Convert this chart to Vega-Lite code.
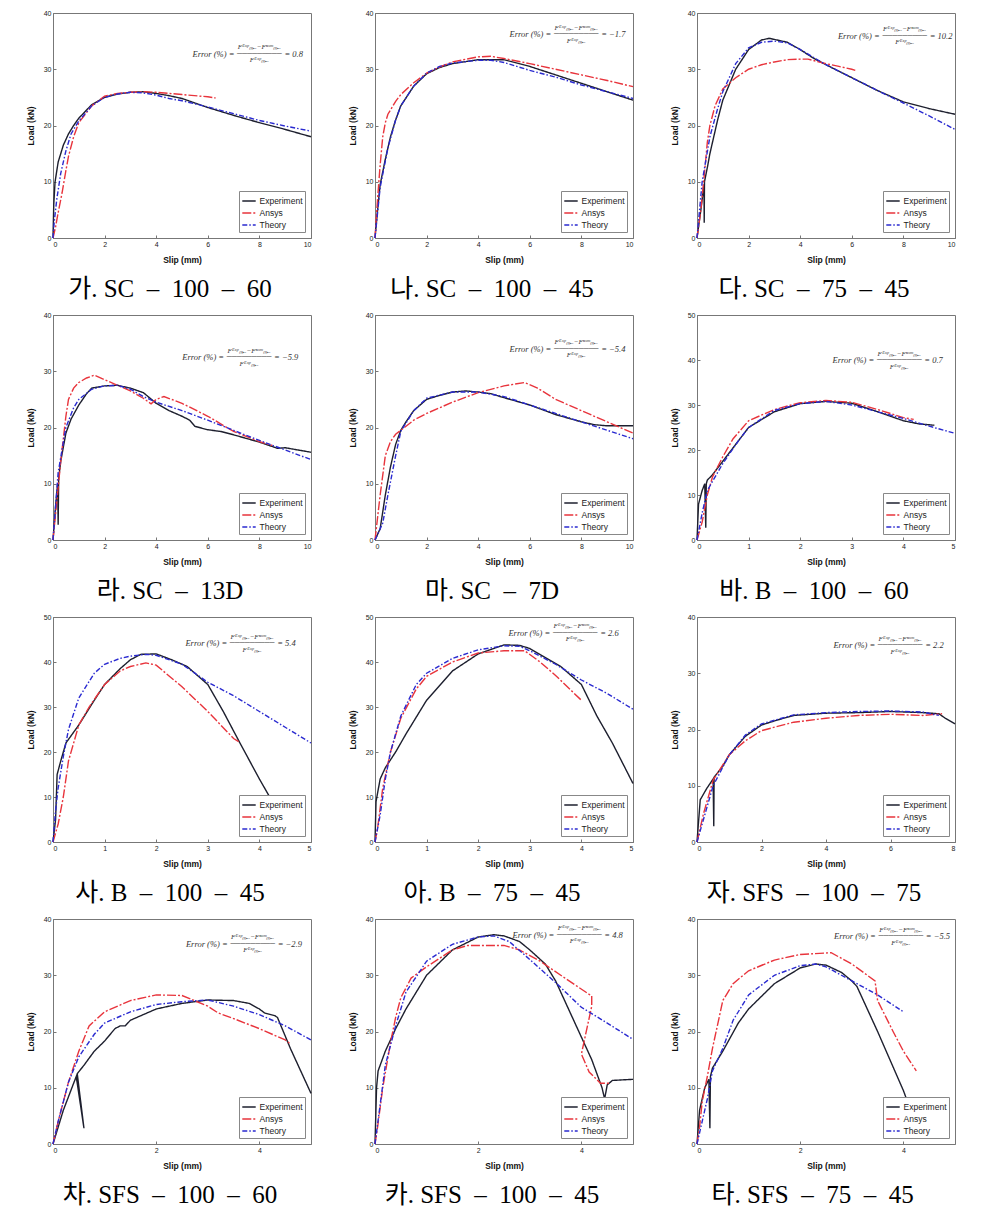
{
"$schema": "https://vega.github.io/schema/vega-lite/v6.json",
"background": "white",
"padding": {"left": 25, "top": 8, "right": 0, "bottom": 0},
"datasets": {
"curves": [
{"p":"a","s":"Experiment","x":0,"y":0},{"p":"a","s":"Experiment","x":0.03,"y":6},{"p":"a","s":"Experiment","x":0.08,"y":10},{"p":"a","s":"Experiment","x":0.2,"y":13.5},{"p":"a","s":"Experiment","x":0.4,"y":16.5},{"p":"a","s":"Experiment","x":0.6,"y":18.5},{"p":"a","s":"Experiment","x":0.8,"y":20},{"p":"a","s":"Experiment","x":1,"y":21.3},{"p":"a","s":"Experiment","x":1.5,"y":23.7},{"p":"a","s":"Experiment","x":2,"y":25},{"p":"a","s":"Experiment","x":2.5,"y":25.6},{"p":"a","s":"Experiment","x":3,"y":25.9},{"p":"a","s":"Experiment","x":3.5,"y":26},{"p":"a","s":"Experiment","x":4,"y":25.7},{"p":"a","s":"Experiment","x":4.5,"y":25.3},{"p":"a","s":"Experiment","x":5,"y":24.8},{"p":"a","s":"Experiment","x":6,"y":23.2},{"p":"a","s":"Experiment","x":7,"y":21.8},{"p":"a","s":"Experiment","x":8,"y":20.5},{"p":"a","s":"Experiment","x":9,"y":19.3},{"p":"a","s":"Experiment","x":10,"y":18},
{"p":"a","s":"Ansys","x":0,"y":0},{"p":"a","s":"Ansys","x":0.1,"y":2},{"p":"a","s":"Ansys","x":0.2,"y":4.5},{"p":"a","s":"Ansys","x":0.35,"y":8},{"p":"a","s":"Ansys","x":0.5,"y":12},{"p":"a","s":"Ansys","x":0.6,"y":14.5},{"p":"a","s":"Ansys","x":0.8,"y":18},{"p":"a","s":"Ansys","x":1,"y":20.5},{"p":"a","s":"Ansys","x":1.5,"y":23.5},{"p":"a","s":"Ansys","x":2,"y":25.2},{"p":"a","s":"Ansys","x":2.5,"y":25.7},{"p":"a","s":"Ansys","x":3,"y":25.9},{"p":"a","s":"Ansys","x":3.5,"y":26},{"p":"a","s":"Ansys","x":4,"y":25.9},{"p":"a","s":"Ansys","x":5,"y":25.5},{"p":"a","s":"Ansys","x":6,"y":25.1},{"p":"a","s":"Ansys","x":6.3,"y":24.9},
{"p":"a","s":"Theory","x":0,"y":0},{"p":"a","s":"Theory","x":0.05,"y":3},{"p":"a","s":"Theory","x":0.15,"y":7},{"p":"a","s":"Theory","x":0.3,"y":11.5},{"p":"a","s":"Theory","x":0.5,"y":15.5},{"p":"a","s":"Theory","x":0.7,"y":18.5},{"p":"a","s":"Theory","x":1,"y":20.8},{"p":"a","s":"Theory","x":1.5,"y":23.5},{"p":"a","s":"Theory","x":2,"y":25},{"p":"a","s":"Theory","x":2.5,"y":25.6},{"p":"a","s":"Theory","x":3,"y":25.9},{"p":"a","s":"Theory","x":3.5,"y":25.8},{"p":"a","s":"Theory","x":4,"y":25.4},{"p":"a","s":"Theory","x":4.5,"y":24.8},{"p":"a","s":"Theory","x":5,"y":24.4},{"p":"a","s":"Theory","x":6,"y":23.3},{"p":"a","s":"Theory","x":7,"y":22.1},{"p":"a","s":"Theory","x":8,"y":20.9},{"p":"a","s":"Theory","x":9,"y":19.9},{"p":"a","s":"Theory","x":10,"y":19},

{"p":"b","s":"Experiment","x":0,"y":0},{"p":"b","s":"Experiment","x":0.1,"y":5},{"p":"b","s":"Experiment","x":0.2,"y":9.5},{"p":"b","s":"Experiment","x":0.4,"y":14},{"p":"b","s":"Experiment","x":0.6,"y":18},{"p":"b","s":"Experiment","x":0.8,"y":21},{"p":"b","s":"Experiment","x":1,"y":23.5},{"p":"b","s":"Experiment","x":1.5,"y":27},{"p":"b","s":"Experiment","x":2,"y":29.2},{"p":"b","s":"Experiment","x":2.5,"y":30.3},{"p":"b","s":"Experiment","x":3,"y":31},{"p":"b","s":"Experiment","x":4,"y":31.7},{"p":"b","s":"Experiment","x":5,"y":31.7},{"p":"b","s":"Experiment","x":6,"y":30.5},{"p":"b","s":"Experiment","x":7,"y":29},{"p":"b","s":"Experiment","x":8,"y":27.5},{"p":"b","s":"Experiment","x":9,"y":26},{"p":"b","s":"Experiment","x":10,"y":24.5},
{"p":"b","s":"Ansys","x":0,"y":0},{"p":"b","s":"Ansys","x":0.1,"y":7},{"p":"b","s":"Ansys","x":0.2,"y":13},{"p":"b","s":"Ansys","x":0.3,"y":18},{"p":"b","s":"Ansys","x":0.4,"y":20.5},{"p":"b","s":"Ansys","x":0.5,"y":22},{"p":"b","s":"Ansys","x":0.8,"y":24.3},{"p":"b","s":"Ansys","x":1,"y":25.5},{"p":"b","s":"Ansys","x":1.5,"y":27.6},{"p":"b","s":"Ansys","x":2,"y":29.3},{"p":"b","s":"Ansys","x":2.5,"y":30.4},{"p":"b","s":"Ansys","x":3,"y":31.3},{"p":"b","s":"Ansys","x":4,"y":32.2},{"p":"b","s":"Ansys","x":4.5,"y":32.3},{"p":"b","s":"Ansys","x":5,"y":31.9},{"p":"b","s":"Ansys","x":6,"y":31},{"p":"b","s":"Ansys","x":7,"y":30},{"p":"b","s":"Ansys","x":8,"y":29},{"p":"b","s":"Ansys","x":9,"y":28},{"p":"b","s":"Ansys","x":10,"y":26.9},
{"p":"b","s":"Theory","x":0,"y":0},{"p":"b","s":"Theory","x":0.1,"y":4.5},{"p":"b","s":"Theory","x":0.2,"y":9},{"p":"b","s":"Theory","x":0.5,"y":16},{"p":"b","s":"Theory","x":0.8,"y":21},{"p":"b","s":"Theory","x":1,"y":23.5},{"p":"b","s":"Theory","x":1.5,"y":27},{"p":"b","s":"Theory","x":2,"y":29.3},{"p":"b","s":"Theory","x":2.5,"y":30.5},{"p":"b","s":"Theory","x":3,"y":31.1},{"p":"b","s":"Theory","x":4,"y":31.6},{"p":"b","s":"Theory","x":4.5,"y":31.6},{"p":"b","s":"Theory","x":5,"y":31.2},{"p":"b","s":"Theory","x":5.5,"y":30.5},{"p":"b","s":"Theory","x":6,"y":29.8},{"p":"b","s":"Theory","x":7,"y":28.6},{"p":"b","s":"Theory","x":8,"y":27.2},{"p":"b","s":"Theory","x":9,"y":26},{"p":"b","s":"Theory","x":10,"y":24.8},

{"p":"c","s":"Experiment","x":0,"y":0},{"p":"c","s":"Experiment","x":0.15,"y":5},{"p":"c","s":"Experiment","x":0.27,"y":9.5},{"p":"c","s":"Experiment","x":0.28,"y":2.7},{"p":"c","s":"Experiment","x":0.29,"y":10},{"p":"c","s":"Experiment","x":0.4,"y":12.5},{"p":"c","s":"Experiment","x":0.5,"y":15},{"p":"c","s":"Experiment","x":0.8,"y":21},{"p":"c","s":"Experiment","x":1,"y":24.5},{"p":"c","s":"Experiment","x":1.5,"y":30},{"p":"c","s":"Experiment","x":2,"y":33.5},{"p":"c","s":"Experiment","x":2.5,"y":35.2},{"p":"c","s":"Experiment","x":2.8,"y":35.5},{"p":"c","s":"Experiment","x":3,"y":35.3},{"p":"c","s":"Experiment","x":3.5,"y":34.8},{"p":"c","s":"Experiment","x":4,"y":33.5},{"p":"c","s":"Experiment","x":4.5,"y":32},{"p":"c","s":"Experiment","x":5,"y":30.8},{"p":"c","s":"Experiment","x":6,"y":28.5},{"p":"c","s":"Experiment","x":7,"y":26.2},{"p":"c","s":"Experiment","x":8,"y":24.2},{"p":"c","s":"Experiment","x":9,"y":23},{"p":"c","s":"Experiment","x":10,"y":22},
{"p":"c","s":"Ansys","x":0,"y":0},{"p":"c","s":"Ansys","x":0.15,"y":5},{"p":"c","s":"Ansys","x":0.3,"y":12},{"p":"c","s":"Ansys","x":0.4,"y":17},{"p":"c","s":"Ansys","x":0.5,"y":20},{"p":"c","s":"Ansys","x":0.7,"y":23.5},{"p":"c","s":"Ansys","x":1,"y":26.5},{"p":"c","s":"Ansys","x":1.5,"y":28.5},{"p":"c","s":"Ansys","x":2,"y":30},{"p":"c","s":"Ansys","x":2.5,"y":30.8},{"p":"c","s":"Ansys","x":3,"y":31.3},{"p":"c","s":"Ansys","x":3.5,"y":31.7},{"p":"c","s":"Ansys","x":4,"y":31.8},{"p":"c","s":"Ansys","x":4.3,"y":31.8},{"p":"c","s":"Ansys","x":5,"y":31},{"p":"c","s":"Ansys","x":5.5,"y":30.5},{"p":"c","s":"Ansys","x":6,"y":30},{"p":"c","s":"Ansys","x":6.2,"y":29.7},
{"p":"c","s":"Theory","x":0,"y":0},{"p":"c","s":"Theory","x":0.2,"y":10},{"p":"c","s":"Theory","x":0.5,"y":18},{"p":"c","s":"Theory","x":0.8,"y":23},{"p":"c","s":"Theory","x":1,"y":26},{"p":"c","s":"Theory","x":1.5,"y":31},{"p":"c","s":"Theory","x":2,"y":33.8},{"p":"c","s":"Theory","x":2.5,"y":34.8},{"p":"c","s":"Theory","x":3,"y":35},{"p":"c","s":"Theory","x":3.5,"y":34.7},{"p":"c","s":"Theory","x":4,"y":33.5},{"p":"c","s":"Theory","x":5,"y":30.8},{"p":"c","s":"Theory","x":6,"y":28.5},{"p":"c","s":"Theory","x":7,"y":26.2},{"p":"c","s":"Theory","x":8,"y":24},{"p":"c","s":"Theory","x":9,"y":21.7},{"p":"c","s":"Theory","x":10,"y":19.3},

{"p":"d","s":"Experiment","x":0,"y":0},{"p":"d","s":"Experiment","x":0.1,"y":6},{"p":"d","s":"Experiment","x":0.18,"y":10},{"p":"d","s":"Experiment","x":0.2,"y":2.7},{"p":"d","s":"Experiment","x":0.22,"y":11},{"p":"d","s":"Experiment","x":0.3,"y":14},{"p":"d","s":"Experiment","x":0.5,"y":19},{"p":"d","s":"Experiment","x":0.7,"y":21.5},{"p":"d","s":"Experiment","x":1,"y":24},{"p":"d","s":"Experiment","x":1.3,"y":26},{"p":"d","s":"Experiment","x":1.5,"y":27},{"p":"d","s":"Experiment","x":2,"y":27.4},{"p":"d","s":"Experiment","x":2.5,"y":27.5},{"p":"d","s":"Experiment","x":3,"y":27},{"p":"d","s":"Experiment","x":3.5,"y":26.2},{"p":"d","s":"Experiment","x":4,"y":24.3},{"p":"d","s":"Experiment","x":4.5,"y":23},{"p":"d","s":"Experiment","x":5,"y":22},{"p":"d","s":"Experiment","x":5.3,"y":21.3},{"p":"d","s":"Experiment","x":5.5,"y":20.2},{"p":"d","s":"Experiment","x":6,"y":19.6},{"p":"d","s":"Experiment","x":6.5,"y":19.3},{"p":"d","s":"Experiment","x":7,"y":18.7},{"p":"d","s":"Experiment","x":8,"y":17.4},{"p":"d","s":"Experiment","x":8.7,"y":16.3},{"p":"d","s":"Experiment","x":9,"y":16.4},{"p":"d","s":"Experiment","x":10,"y":15.6},
{"p":"d","s":"Ansys","x":0,"y":0},{"p":"d","s":"Ansys","x":0.15,"y":7},{"p":"d","s":"Ansys","x":0.3,"y":14},{"p":"d","s":"Ansys","x":0.5,"y":22},{"p":"d","s":"Ansys","x":0.6,"y":25},{"p":"d","s":"Ansys","x":0.8,"y":27},{"p":"d","s":"Ansys","x":1,"y":28},{"p":"d","s":"Ansys","x":1.3,"y":28.8},{"p":"d","s":"Ansys","x":1.6,"y":29.3},{"p":"d","s":"Ansys","x":2,"y":28.5},{"p":"d","s":"Ansys","x":2.5,"y":27.5},{"p":"d","s":"Ansys","x":3,"y":26.5},{"p":"d","s":"Ansys","x":3.5,"y":25.2},{"p":"d","s":"Ansys","x":3.8,"y":24.2},{"p":"d","s":"Ansys","x":4,"y":25},{"p":"d","s":"Ansys","x":4.3,"y":25.5},{"p":"d","s":"Ansys","x":5,"y":24.3},{"p":"d","s":"Ansys","x":6,"y":22},{"p":"d","s":"Ansys","x":7,"y":19.3},{"p":"d","s":"Ansys","x":8,"y":17.5},{"p":"d","s":"Ansys","x":8.5,"y":16.8},
{"p":"d","s":"Theory","x":0,"y":0},{"p":"d","s":"Theory","x":0.1,"y":6},{"p":"d","s":"Theory","x":0.2,"y":12},{"p":"d","s":"Theory","x":0.5,"y":20},{"p":"d","s":"Theory","x":0.8,"y":23.5},{"p":"d","s":"Theory","x":1,"y":25},{"p":"d","s":"Theory","x":1.5,"y":26.8},{"p":"d","s":"Theory","x":2,"y":27.4},{"p":"d","s":"Theory","x":2.5,"y":27.5},{"p":"d","s":"Theory","x":3,"y":26.8},{"p":"d","s":"Theory","x":3.5,"y":25.5},{"p":"d","s":"Theory","x":4,"y":24.5},{"p":"d","s":"Theory","x":5,"y":23},{"p":"d","s":"Theory","x":6,"y":21.3},{"p":"d","s":"Theory","x":7,"y":19.5},{"p":"d","s":"Theory","x":8,"y":17.7},{"p":"d","s":"Theory","x":9,"y":16},{"p":"d","s":"Theory","x":10,"y":14.3},

{"p":"e","s":"Experiment","x":0,"y":0},{"p":"e","s":"Experiment","x":0.2,"y":2},{"p":"e","s":"Experiment","x":0.3,"y":5},{"p":"e","s":"Experiment","x":0.4,"y":8},{"p":"e","s":"Experiment","x":0.6,"y":13},{"p":"e","s":"Experiment","x":0.8,"y":17},{"p":"e","s":"Experiment","x":1,"y":19.5},{"p":"e","s":"Experiment","x":1.2,"y":21},{"p":"e","s":"Experiment","x":1.5,"y":23},{"p":"e","s":"Experiment","x":2,"y":25},{"p":"e","s":"Experiment","x":2.5,"y":25.7},{"p":"e","s":"Experiment","x":3,"y":26.3},{"p":"e","s":"Experiment","x":3.5,"y":26.5},{"p":"e","s":"Experiment","x":4,"y":26.3},{"p":"e","s":"Experiment","x":4.5,"y":26},{"p":"e","s":"Experiment","x":5,"y":25.3},{"p":"e","s":"Experiment","x":6,"y":24},{"p":"e","s":"Experiment","x":7,"y":22.3},{"p":"e","s":"Experiment","x":8,"y":21},{"p":"e","s":"Experiment","x":8.5,"y":20.5},{"p":"e","s":"Experiment","x":9,"y":20.3},{"p":"e","s":"Experiment","x":10,"y":20.3},
{"p":"e","s":"Ansys","x":0,"y":0},{"p":"e","s":"Ansys","x":0.1,"y":4},{"p":"e","s":"Ansys","x":0.2,"y":8},{"p":"e","s":"Ansys","x":0.4,"y":15},{"p":"e","s":"Ansys","x":0.6,"y":17.5},{"p":"e","s":"Ansys","x":0.8,"y":18.8},{"p":"e","s":"Ansys","x":1,"y":19.5},{"p":"e","s":"Ansys","x":1.5,"y":21.3},{"p":"e","s":"Ansys","x":2,"y":22.5},{"p":"e","s":"Ansys","x":3,"y":24.5},{"p":"e","s":"Ansys","x":4,"y":26.2},{"p":"e","s":"Ansys","x":5,"y":27.4},{"p":"e","s":"Ansys","x":5.8,"y":28},{"p":"e","s":"Ansys","x":6.3,"y":27},{"p":"e","s":"Ansys","x":7,"y":25},{"p":"e","s":"Ansys","x":8,"y":23},{"p":"e","s":"Ansys","x":9,"y":21},{"p":"e","s":"Ansys","x":10,"y":19},
{"p":"e","s":"Theory","x":0,"y":0},{"p":"e","s":"Theory","x":0.3,"y":3},{"p":"e","s":"Theory","x":0.5,"y":8},{"p":"e","s":"Theory","x":0.8,"y":15},{"p":"e","s":"Theory","x":1,"y":19.3},{"p":"e","s":"Theory","x":1.5,"y":23},{"p":"e","s":"Theory","x":2,"y":25.2},{"p":"e","s":"Theory","x":3,"y":26.3},{"p":"e","s":"Theory","x":4,"y":26.3},{"p":"e","s":"Theory","x":5,"y":25.5},{"p":"e","s":"Theory","x":6,"y":24},{"p":"e","s":"Theory","x":7,"y":22.5},{"p":"e","s":"Theory","x":8,"y":21},{"p":"e","s":"Theory","x":9,"y":19.5},{"p":"e","s":"Theory","x":10,"y":18},

{"p":"f","s":"Experiment","x":0,"y":0},{"p":"f","s":"Experiment","x":0.03,"y":8},{"p":"f","s":"Experiment","x":0.1,"y":11},{"p":"f","s":"Experiment","x":0.15,"y":12.5},{"p":"f","s":"Experiment","x":0.17,"y":2.7},{"p":"f","s":"Experiment","x":0.18,"y":12.5},{"p":"f","s":"Experiment","x":0.2,"y":13.3},{"p":"f","s":"Experiment","x":0.3,"y":14.5},{"p":"f","s":"Experiment","x":0.5,"y":17.5},{"p":"f","s":"Experiment","x":0.7,"y":20.5},{"p":"f","s":"Experiment","x":1,"y":25},{"p":"f","s":"Experiment","x":1.5,"y":28.5},{"p":"f","s":"Experiment","x":2,"y":30.3},{"p":"f","s":"Experiment","x":2.5,"y":30.8},{"p":"f","s":"Experiment","x":3,"y":30.4},{"p":"f","s":"Experiment","x":3.5,"y":28.5},{"p":"f","s":"Experiment","x":4,"y":26.5},{"p":"f","s":"Experiment","x":4.3,"y":25.8},{"p":"f","s":"Experiment","x":4.6,"y":25.5},
{"p":"f","s":"Ansys","x":0,"y":0},{"p":"f","s":"Ansys","x":0.1,"y":4},{"p":"f","s":"Ansys","x":0.2,"y":10},{"p":"f","s":"Ansys","x":0.3,"y":14},{"p":"f","s":"Ansys","x":0.5,"y":18.5},{"p":"f","s":"Ansys","x":0.7,"y":22.5},{"p":"f","s":"Ansys","x":1,"y":26.5},{"p":"f","s":"Ansys","x":1.5,"y":29},{"p":"f","s":"Ansys","x":2,"y":30.5},{"p":"f","s":"Ansys","x":2.5,"y":31},{"p":"f","s":"Ansys","x":3,"y":30.6},{"p":"f","s":"Ansys","x":3.5,"y":29},{"p":"f","s":"Ansys","x":4,"y":27.2},{"p":"f","s":"Ansys","x":4.2,"y":26.8},
{"p":"f","s":"Theory","x":0,"y":0},{"p":"f","s":"Theory","x":0.1,"y":6},{"p":"f","s":"Theory","x":0.2,"y":11},{"p":"f","s":"Theory","x":0.5,"y":17},{"p":"f","s":"Theory","x":0.8,"y":22},{"p":"f","s":"Theory","x":1,"y":25},{"p":"f","s":"Theory","x":1.5,"y":28.8},{"p":"f","s":"Theory","x":2,"y":30.3},{"p":"f","s":"Theory","x":2.5,"y":30.8},{"p":"f","s":"Theory","x":3,"y":30},{"p":"f","s":"Theory","x":3.5,"y":28.5},{"p":"f","s":"Theory","x":4,"y":27},{"p":"f","s":"Theory","x":4.5,"y":25.3},{"p":"f","s":"Theory","x":5,"y":23.7},

{"p":"g","s":"Experiment","x":0,"y":0},{"p":"g","s":"Experiment","x":0.05,"y":5},{"p":"g","s":"Experiment","x":0.08,"y":15},{"p":"g","s":"Experiment","x":0.15,"y":18},{"p":"g","s":"Experiment","x":0.25,"y":22},{"p":"g","s":"Experiment","x":0.5,"y":26},{"p":"g","s":"Experiment","x":0.8,"y":31.5},{"p":"g","s":"Experiment","x":1,"y":35},{"p":"g","s":"Experiment","x":1.3,"y":38.5},{"p":"g","s":"Experiment","x":1.5,"y":40.5},{"p":"g","s":"Experiment","x":1.7,"y":41.7},{"p":"g","s":"Experiment","x":2,"y":41.8},{"p":"g","s":"Experiment","x":2.3,"y":40.5},{"p":"g","s":"Experiment","x":2.6,"y":39},{"p":"g","s":"Experiment","x":3,"y":35},{"p":"g","s":"Experiment","x":3.3,"y":29},{"p":"g","s":"Experiment","x":3.6,"y":22.5},{"p":"g","s":"Experiment","x":4,"y":14},{"p":"g","s":"Experiment","x":4.3,"y":8},
{"p":"g","s":"Ansys","x":0,"y":0},{"p":"g","s":"Ansys","x":0.1,"y":4},{"p":"g","s":"Ansys","x":0.2,"y":10},{"p":"g","s":"Ansys","x":0.3,"y":18},{"p":"g","s":"Ansys","x":0.5,"y":26},{"p":"g","s":"Ansys","x":0.7,"y":30},{"p":"g","s":"Ansys","x":1,"y":35},{"p":"g","s":"Ansys","x":1.3,"y":38},{"p":"g","s":"Ansys","x":1.5,"y":39},{"p":"g","s":"Ansys","x":1.8,"y":39.8},{"p":"g","s":"Ansys","x":2,"y":39.3},{"p":"g","s":"Ansys","x":2.5,"y":34.5},{"p":"g","s":"Ansys","x":3,"y":29},{"p":"g","s":"Ansys","x":3.5,"y":23},{"p":"g","s":"Ansys","x":3.6,"y":22.3},
{"p":"g","s":"Theory","x":0,"y":0},{"p":"g","s":"Theory","x":0.05,"y":7},{"p":"g","s":"Theory","x":0.1,"y":12},{"p":"g","s":"Theory","x":0.2,"y":19},{"p":"g","s":"Theory","x":0.3,"y":25},{"p":"g","s":"Theory","x":0.5,"y":32},{"p":"g","s":"Theory","x":0.8,"y":37.5},{"p":"g","s":"Theory","x":1,"y":39.5},{"p":"g","s":"Theory","x":1.3,"y":40.8},{"p":"g","s":"Theory","x":1.5,"y":41.3},{"p":"g","s":"Theory","x":1.8,"y":41.7},{"p":"g","s":"Theory","x":2,"y":41.5},{"p":"g","s":"Theory","x":2.5,"y":39.5},{"p":"g","s":"Theory","x":3,"y":35.5},{"p":"g","s":"Theory","x":3.5,"y":32.5},{"p":"g","s":"Theory","x":4,"y":29},{"p":"g","s":"Theory","x":4.5,"y":25.5},{"p":"g","s":"Theory","x":5,"y":22},

{"p":"h","s":"Experiment","x":0,"y":0},{"p":"h","s":"Experiment","x":0.02,"y":9},{"p":"h","s":"Experiment","x":0.1,"y":14},{"p":"h","s":"Experiment","x":0.2,"y":16.5},{"p":"h","s":"Experiment","x":0.4,"y":20},{"p":"h","s":"Experiment","x":0.6,"y":24},{"p":"h","s":"Experiment","x":1,"y":31.5},{"p":"h","s":"Experiment","x":1.5,"y":38},{"p":"h","s":"Experiment","x":2,"y":41.8},{"p":"h","s":"Experiment","x":2.5,"y":43.8},{"p":"h","s":"Experiment","x":2.8,"y":43.7},{"p":"h","s":"Experiment","x":3,"y":43},{"p":"h","s":"Experiment","x":3.3,"y":41},{"p":"h","s":"Experiment","x":3.6,"y":39},{"p":"h","s":"Experiment","x":4,"y":35},{"p":"h","s":"Experiment","x":4.3,"y":28},{"p":"h","s":"Experiment","x":4.6,"y":22},{"p":"h","s":"Experiment","x":5,"y":13},
{"p":"h","s":"Ansys","x":0,"y":0},{"p":"h","s":"Ansys","x":0.05,"y":3},{"p":"h","s":"Ansys","x":0.15,"y":12},{"p":"h","s":"Ansys","x":0.3,"y":20},{"p":"h","s":"Ansys","x":0.5,"y":27.5},{"p":"h","s":"Ansys","x":0.8,"y":34},{"p":"h","s":"Ansys","x":1,"y":36.8},{"p":"h","s":"Ansys","x":1.5,"y":40},{"p":"h","s":"Ansys","x":2,"y":42},{"p":"h","s":"Ansys","x":2.5,"y":42.5},{"p":"h","s":"Ansys","x":2.9,"y":42.5},{"p":"h","s":"Ansys","x":3.2,"y":40},{"p":"h","s":"Ansys","x":3.5,"y":37},{"p":"h","s":"Ansys","x":4,"y":31.5},
{"p":"h","s":"Theory","x":0,"y":0},{"p":"h","s":"Theory","x":0.1,"y":6},{"p":"h","s":"Theory","x":0.2,"y":14},{"p":"h","s":"Theory","x":0.3,"y":20},{"p":"h","s":"Theory","x":0.5,"y":28},{"p":"h","s":"Theory","x":0.8,"y":35},{"p":"h","s":"Theory","x":1,"y":37.5},{"p":"h","s":"Theory","x":1.5,"y":40.8},{"p":"h","s":"Theory","x":2,"y":42.7},{"p":"h","s":"Theory","x":2.5,"y":43.6},{"p":"h","s":"Theory","x":2.8,"y":43.5},{"p":"h","s":"Theory","x":3,"y":42.5},{"p":"h","s":"Theory","x":3.5,"y":39.5},{"p":"h","s":"Theory","x":4,"y":36},{"p":"h","s":"Theory","x":4.5,"y":33},{"p":"h","s":"Theory","x":5,"y":29.5},

{"p":"i","s":"Experiment","x":0,"y":0},{"p":"i","s":"Experiment","x":0.1,"y":7.5},{"p":"i","s":"Experiment","x":0.3,"y":9.5},{"p":"i","s":"Experiment","x":0.5,"y":11.2},{"p":"i","s":"Experiment","x":0.52,"y":2.8},{"p":"i","s":"Experiment","x":0.53,"y":11.5},{"p":"i","s":"Experiment","x":0.8,"y":13.5},{"p":"i","s":"Experiment","x":1,"y":15.5},{"p":"i","s":"Experiment","x":1.5,"y":18.8},{"p":"i","s":"Experiment","x":2,"y":20.8},{"p":"i","s":"Experiment","x":2.5,"y":21.7},{"p":"i","s":"Experiment","x":3,"y":22.5},{"p":"i","s":"Experiment","x":4,"y":22.9},{"p":"i","s":"Experiment","x":5,"y":23},{"p":"i","s":"Experiment","x":6,"y":23.2},{"p":"i","s":"Experiment","x":7,"y":23},{"p":"i","s":"Experiment","x":7.5,"y":22.8},{"p":"i","s":"Experiment","x":7.7,"y":22},{"p":"i","s":"Experiment","x":8,"y":21},
{"p":"i","s":"Ansys","x":0,"y":0},{"p":"i","s":"Ansys","x":0.2,"y":5},{"p":"i","s":"Ansys","x":0.5,"y":11},{"p":"i","s":"Ansys","x":1,"y":15.5},{"p":"i","s":"Ansys","x":1.5,"y":18},{"p":"i","s":"Ansys","x":2,"y":19.8},{"p":"i","s":"Ansys","x":3,"y":21.3},{"p":"i","s":"Ansys","x":4,"y":22},{"p":"i","s":"Ansys","x":5,"y":22.5},{"p":"i","s":"Ansys","x":6,"y":22.7},{"p":"i","s":"Ansys","x":7,"y":22.5},{"p":"i","s":"Ansys","x":7.6,"y":22.8},
{"p":"i","s":"Theory","x":0,"y":0},{"p":"i","s":"Theory","x":0.2,"y":4},{"p":"i","s":"Theory","x":0.5,"y":10},{"p":"i","s":"Theory","x":1,"y":15.5},{"p":"i","s":"Theory","x":1.5,"y":19},{"p":"i","s":"Theory","x":2,"y":21},{"p":"i","s":"Theory","x":3,"y":22.6},{"p":"i","s":"Theory","x":4,"y":23},{"p":"i","s":"Theory","x":5,"y":23.2},{"p":"i","s":"Theory","x":6,"y":23.3},{"p":"i","s":"Theory","x":7,"y":23.1},{"p":"i","s":"Theory","x":7.5,"y":22.5},

{"p":"j","s":"Experiment","x":0,"y":0},{"p":"j","s":"Experiment","x":0.2,"y":6},{"p":"j","s":"Experiment","x":0.45,"y":12},{"p":"j","s":"Experiment","x":0.6,"y":2.8},{"p":"j","s":"Experiment","x":0.47,"y":12.5},{"p":"j","s":"Experiment","x":0.6,"y":14},{"p":"j","s":"Experiment","x":0.8,"y":16.5},{"p":"j","s":"Experiment","x":1,"y":18.3},{"p":"j","s":"Experiment","x":1.2,"y":20.5},{"p":"j","s":"Experiment","x":1.3,"y":21},{"p":"j","s":"Experiment","x":1.4,"y":21},{"p":"j","s":"Experiment","x":1.5,"y":22},{"p":"j","s":"Experiment","x":2,"y":24},{"p":"j","s":"Experiment","x":2.5,"y":25},{"p":"j","s":"Experiment","x":3,"y":25.6},{"p":"j","s":"Experiment","x":3.5,"y":25.5},{"p":"j","s":"Experiment","x":3.8,"y":25},{"p":"j","s":"Experiment","x":4,"y":24},{"p":"j","s":"Experiment","x":4.1,"y":23.3},{"p":"j","s":"Experiment","x":4.3,"y":22.8},{"p":"j","s":"Experiment","x":4.35,"y":22.5},{"p":"j","s":"Experiment","x":4.6,"y":17},{"p":"j","s":"Experiment","x":5,"y":9},
{"p":"j","s":"Ansys","x":0,"y":0},{"p":"j","s":"Ansys","x":0.1,"y":4},{"p":"j","s":"Ansys","x":0.3,"y":11},{"p":"j","s":"Ansys","x":0.5,"y":16.5},{"p":"j","s":"Ansys","x":0.7,"y":21},{"p":"j","s":"Ansys","x":1,"y":23.5},{"p":"j","s":"Ansys","x":1.5,"y":25.5},{"p":"j","s":"Ansys","x":2,"y":26.5},{"p":"j","s":"Ansys","x":2.5,"y":26.4},{"p":"j","s":"Ansys","x":3,"y":24.5},{"p":"j","s":"Ansys","x":3.2,"y":23.3},{"p":"j","s":"Ansys","x":3.5,"y":22.3},{"p":"j","s":"Ansys","x":4,"y":20.5},{"p":"j","s":"Ansys","x":4.5,"y":18.5},{"p":"j","s":"Ansys","x":4.6,"y":17.8},
{"p":"j","s":"Theory","x":0,"y":0},{"p":"j","s":"Theory","x":0.1,"y":4},{"p":"j","s":"Theory","x":0.3,"y":11},{"p":"j","s":"Theory","x":0.5,"y":15.5},{"p":"j","s":"Theory","x":0.8,"y":19.5},{"p":"j","s":"Theory","x":1,"y":21.5},{"p":"j","s":"Theory","x":1.5,"y":23.5},{"p":"j","s":"Theory","x":2,"y":24.8},{"p":"j","s":"Theory","x":2.5,"y":25.3},{"p":"j","s":"Theory","x":3,"y":25.6},{"p":"j","s":"Theory","x":3.5,"y":24.5},{"p":"j","s":"Theory","x":4,"y":23},{"p":"j","s":"Theory","x":4.5,"y":21},{"p":"j","s":"Theory","x":5,"y":18.5},

{"p":"k","s":"Experiment","x":0,"y":0},{"p":"k","s":"Experiment","x":0.03,"y":10},{"p":"k","s":"Experiment","x":0.06,"y":13},{"p":"k","s":"Experiment","x":0.1,"y":14},{"p":"k","s":"Experiment","x":0.2,"y":16.5},{"p":"k","s":"Experiment","x":0.4,"y":20.5},{"p":"k","s":"Experiment","x":0.6,"y":24},{"p":"k","s":"Experiment","x":1,"y":30},{"p":"k","s":"Experiment","x":1.5,"y":34.5},{"p":"k","s":"Experiment","x":2,"y":36.8},{"p":"k","s":"Experiment","x":2.3,"y":37.2},{"p":"k","s":"Experiment","x":2.5,"y":37},{"p":"k","s":"Experiment","x":2.8,"y":36},{"p":"k","s":"Experiment","x":3,"y":34.5},{"p":"k","s":"Experiment","x":3.3,"y":32},{"p":"k","s":"Experiment","x":3.5,"y":29},{"p":"k","s":"Experiment","x":3.8,"y":23},{"p":"k","s":"Experiment","x":4,"y":19},{"p":"k","s":"Experiment","x":4.2,"y":15},{"p":"k","s":"Experiment","x":4.4,"y":10},{"p":"k","s":"Experiment","x":4.45,"y":8},{"p":"k","s":"Experiment","x":4.5,"y":10.5},{"p":"k","s":"Experiment","x":4.6,"y":11.3},{"p":"k","s":"Experiment","x":5,"y":11.5},
{"p":"k","s":"Ansys","x":0,"y":0},{"p":"k","s":"Ansys","x":0.05,"y":3},{"p":"k","s":"Ansys","x":0.15,"y":10},{"p":"k","s":"Ansys","x":0.3,"y":18},{"p":"k","s":"Ansys","x":0.4,"y":22.5},{"p":"k","s":"Ansys","x":0.5,"y":26},{"p":"k","s":"Ansys","x":0.7,"y":29.5},{"p":"k","s":"Ansys","x":1,"y":31.5},{"p":"k","s":"Ansys","x":1.5,"y":34.5},{"p":"k","s":"Ansys","x":1.8,"y":35.3},{"p":"k","s":"Ansys","x":2.5,"y":35.3},{"p":"k","s":"Ansys","x":2.8,"y":34.5},{"p":"k","s":"Ansys","x":3.2,"y":32.5},{"p":"k","s":"Ansys","x":3.6,"y":30},{"p":"k","s":"Ansys","x":4.2,"y":26.3},{"p":"k","s":"Ansys","x":4.2,"y":24.5},{"p":"k","s":"Ansys","x":4,"y":16},{"p":"k","s":"Ansys","x":4.15,"y":12.8},{"p":"k","s":"Ansys","x":4.37,"y":10.8},{"p":"k","s":"Ansys","x":4.56,"y":10.8},
{"p":"k","s":"Theory","x":0,"y":0},{"p":"k","s":"Theory","x":0.1,"y":7},{"p":"k","s":"Theory","x":0.2,"y":14},{"p":"k","s":"Theory","x":0.4,"y":21},{"p":"k","s":"Theory","x":0.6,"y":27},{"p":"k","s":"Theory","x":1,"y":32.5},{"p":"k","s":"Theory","x":1.5,"y":35.5},{"p":"k","s":"Theory","x":2,"y":36.8},{"p":"k","s":"Theory","x":2.3,"y":37},{"p":"k","s":"Theory","x":2.6,"y":36},{"p":"k","s":"Theory","x":3,"y":32.8},{"p":"k","s":"Theory","x":3.5,"y":28.7},{"p":"k","s":"Theory","x":4,"y":24.3},{"p":"k","s":"Theory","x":4.5,"y":21.5},{"p":"k","s":"Theory","x":5,"y":18.6},

{"p":"l","s":"Experiment","x":0,"y":0},{"p":"l","s":"Experiment","x":0.05,"y":6},{"p":"l","s":"Experiment","x":0.15,"y":10},{"p":"l","s":"Experiment","x":0.23,"y":11.5},{"p":"l","s":"Experiment","x":0.25,"y":2.8},{"p":"l","s":"Experiment","x":0.26,"y":12},{"p":"l","s":"Experiment","x":0.3,"y":13.5},{"p":"l","s":"Experiment","x":0.5,"y":16.5},{"p":"l","s":"Experiment","x":0.8,"y":21.5},{"p":"l","s":"Experiment","x":1,"y":24},{"p":"l","s":"Experiment","x":1.5,"y":28.5},{"p":"l","s":"Experiment","x":2,"y":31.3},{"p":"l","s":"Experiment","x":2.3,"y":32},{"p":"l","s":"Experiment","x":2.5,"y":31.8},{"p":"l","s":"Experiment","x":2.8,"y":30.5},{"p":"l","s":"Experiment","x":3,"y":29},{"p":"l","s":"Experiment","x":3.1,"y":28},{"p":"l","s":"Experiment","x":3.5,"y":20},{"p":"l","s":"Experiment","x":4,"y":9.5},{"p":"l","s":"Experiment","x":4.1,"y":7},
{"p":"l","s":"Ansys","x":0,"y":0},{"p":"l","s":"Ansys","x":0.05,"y":3},{"p":"l","s":"Ansys","x":0.1,"y":7.5},{"p":"l","s":"Ansys","x":0.2,"y":12},{"p":"l","s":"Ansys","x":0.3,"y":17},{"p":"l","s":"Ansys","x":0.5,"y":25.5},{"p":"l","s":"Ansys","x":0.7,"y":28.5},{"p":"l","s":"Ansys","x":1,"y":30.8},{"p":"l","s":"Ansys","x":1.5,"y":32.7},{"p":"l","s":"Ansys","x":2,"y":33.7},{"p":"l","s":"Ansys","x":2.6,"y":34},{"p":"l","s":"Ansys","x":3,"y":32},{"p":"l","s":"Ansys","x":3.45,"y":29},{"p":"l","s":"Ansys","x":3.5,"y":25.5},{"p":"l","s":"Ansys","x":3.8,"y":20},{"p":"l","s":"Ansys","x":4,"y":16.5},{"p":"l","s":"Ansys","x":4.25,"y":13},
{"p":"l","s":"Theory","x":0,"y":0},{"p":"l","s":"Theory","x":0.1,"y":4},{"p":"l","s":"Theory","x":0.2,"y":8},{"p":"l","s":"Theory","x":0.3,"y":13},{"p":"l","s":"Theory","x":0.5,"y":17},{"p":"l","s":"Theory","x":0.7,"y":22},{"p":"l","s":"Theory","x":1,"y":26.5},{"p":"l","s":"Theory","x":1.5,"y":30},{"p":"l","s":"Theory","x":2,"y":31.7},{"p":"l","s":"Theory","x":2.3,"y":32},{"p":"l","s":"Theory","x":2.5,"y":31.5},{"p":"l","s":"Theory","x":3,"y":29},{"p":"l","s":"Theory","x":3.5,"y":26.5},{"p":"l","s":"Theory","x":4,"y":23.5}
]
},
"resolve": {"scale": {"color": "independent", "strokeDash": "independent"}, "legend": {"color": "independent", "strokeDash": "independent"}},
"spacing": 8,
"vconcat": [
{"hconcat": [
{"width": 258, "height": 225, "title": "가. SC \u00a0–\u00a0 100 \u00a0–\u00a0 60", "layer": [
{"data": {"name": "curves"}, "transform": [{"filter": "datum.p == 'a'"}], "mark": {"type": "line", "strokeWidth": 1.4},
"encoding": {"x": {"field": "x", "type": "quantitative", "scale": {"domain": [0, 10]}, "axis": {"title": "Slip (mm)", "values": [0,2,4,6,8,10]}},
"y": {"field": "y", "type": "quantitative", "scale": {"domain": [0, 40]}, "axis": {"title": "Load (kN)", "values": [0,10,20,30,40]}},
"color": {"field": "s", "type": "nominal", "scale": {"domain": ["Experiment","Ansys","Theory"], "range": ["#1d1f2e","#e8343c","#2a2ad0"]}, "legend": {"title": null, "orient": "bottom-right"}},
"strokeDash": {"field": "s", "type": "nominal", "scale": {"domain": ["Experiment","Ansys","Theory"], "range": [[1,0],[9,2,2,2],[5,2,1.5,2]]}, "legend": {"title": null, "orient": "bottom-right"}},
"order": {"value": null}}},
{"data": {"values": [{}]}, "mark": {"type": "text", "align": "right", "dx": -25}, "encoding": {"x": {"datum": 8.0}, "y": {"datum": 32.8}, "text": {"value": "Error (%) ="}}},
{"data": {"values": [{}]}, "mark": {"type": "text", "align": "center", "fontSize": 7, "lineHeight": 6.5, "dy": -6.5, "text": ["Fᴱˣᵖₘₐₓ−Fⁿᵘᵐₘₐₓ", "─────────", "Fᴱˣᵖₘₐₓ"]}, "encoding": {"x": {"datum": 8.0}, "y": {"datum": 32.8}}},
{"data": {"values": [{}]}, "mark": {"type": "text", "align": "left", "dx": 25}, "encoding": {"x": {"datum": 8.0}, "y": {"datum": 32.8}, "text": {"value": "= 0.8"}}}
]},
{"width": 258, "height": 225, "title": "나. SC \u00a0–\u00a0 100 \u00a0–\u00a0 45", "layer": [
{"data": {"name": "curves"}, "transform": [{"filter": "datum.p == 'b'"}], "mark": {"type": "line", "strokeWidth": 1.4},
"encoding": {"x": {"field": "x", "type": "quantitative", "scale": {"domain": [0, 10]}, "axis": {"title": "Slip (mm)", "values": [0,2,4,6,8,10]}},
"y": {"field": "y", "type": "quantitative", "scale": {"domain": [0, 40]}, "axis": {"title": "Load (kN)", "values": [0,10,20,30,40]}},
"color": {"field": "s", "type": "nominal", "scale": {"domain": ["Experiment","Ansys","Theory"], "range": ["#1d1f2e","#e8343c","#2a2ad0"]}, "legend": {"title": null, "orient": "bottom-right"}},
"strokeDash": {"field": "s", "type": "nominal", "scale": {"domain": ["Experiment","Ansys","Theory"], "range": [[1,0],[9,2,2,2],[5,2,1.5,2]]}, "legend": {"title": null, "orient": "bottom-right"}},
"order": {"value": null}}},
{"data": {"values": [{}]}, "mark": {"type": "text", "align": "right", "dx": -25}, "encoding": {"x": {"datum": 7.8}, "y": {"datum": 36.2}, "text": {"value": "Error (%) ="}}},
{"data": {"values": [{}]}, "mark": {"type": "text", "align": "center", "fontSize": 7, "lineHeight": 6.5, "dy": -6.5, "text": ["Fᴱˣᵖₘₐₓ−Fⁿᵘᵐₘₐₓ", "─────────", "Fᴱˣᵖₘₐₓ"]}, "encoding": {"x": {"datum": 7.8}, "y": {"datum": 36.2}}},
{"data": {"values": [{}]}, "mark": {"type": "text", "align": "left", "dx": 25}, "encoding": {"x": {"datum": 7.8}, "y": {"datum": 36.2}, "text": {"value": "= −1.7"}}}
]},
{"width": 258, "height": 225, "title": "다. SC \u00a0–\u00a0 75 \u00a0–\u00a0 45", "layer": [
{"data": {"name": "curves"}, "transform": [{"filter": "datum.p == 'c'"}], "mark": {"type": "line", "strokeWidth": 1.4},
"encoding": {"x": {"field": "x", "type": "quantitative", "scale": {"domain": [0, 10]}, "axis": {"title": "Slip (mm)", "values": [0,2,4,6,8,10]}},
"y": {"field": "y", "type": "quantitative", "scale": {"domain": [0, 40]}, "axis": {"title": "Load (kN)", "values": [0,10,20,30,40]}},
"color": {"field": "s", "type": "nominal", "scale": {"domain": ["Experiment","Ansys","Theory"], "range": ["#1d1f2e","#e8343c","#2a2ad0"]}, "legend": {"title": null, "orient": "bottom-right"}},
"strokeDash": {"field": "s", "type": "nominal", "scale": {"domain": ["Experiment","Ansys","Theory"], "range": [[1,0],[9,2,2,2],[5,2,1.5,2]]}, "legend": {"title": null, "orient": "bottom-right"}},
"order": {"value": null}}},
{"data": {"values": [{}]}, "mark": {"type": "text", "align": "right", "dx": -25}, "encoding": {"x": {"datum": 8.05}, "y": {"datum": 36}, "text": {"value": "Error (%) ="}}},
{"data": {"values": [{}]}, "mark": {"type": "text", "align": "center", "fontSize": 7, "lineHeight": 6.5, "dy": -6.5, "text": ["Fᴱˣᵖₘₐₓ−Fⁿᵘᵐₘₐₓ", "─────────", "Fᴱˣᵖₘₐₓ"]}, "encoding": {"x": {"datum": 8.05}, "y": {"datum": 36}}},
{"data": {"values": [{}]}, "mark": {"type": "text", "align": "left", "dx": 25}, "encoding": {"x": {"datum": 8.05}, "y": {"datum": 36}, "text": {"value": "= 10.2"}}}
]}
], "spacing": 32, "resolve": {"scale": {"color": "independent", "strokeDash": "independent"}, "legend": {"color": "independent", "strokeDash": "independent"}}},
{"hconcat": [
{"width": 258, "height": 225, "title": "라. SC \u00a0–\u00a0 13D", "layer": [
{"data": {"name": "curves"}, "transform": [{"filter": "datum.p == 'd'"}], "mark": {"type": "line", "strokeWidth": 1.4},
"encoding": {"x": {"field": "x", "type": "quantitative", "scale": {"domain": [0, 10]}, "axis": {"title": "Slip (mm)", "values": [0,2,4,6,8,10]}},
"y": {"field": "y", "type": "quantitative", "scale": {"domain": [0, 40]}, "axis": {"title": "Load (kN)", "values": [0,10,20,30,40]}},
"color": {"field": "s", "type": "nominal", "scale": {"domain": ["Experiment","Ansys","Theory"], "range": ["#1d1f2e","#e8343c","#2a2ad0"]}, "legend": {"title": null, "orient": "bottom-right"}},
"strokeDash": {"field": "s", "type": "nominal", "scale": {"domain": ["Experiment","Ansys","Theory"], "range": [[1,0],[9,2,2,2],[5,2,1.5,2]]}, "legend": {"title": null, "orient": "bottom-right"}},
"order": {"value": null}}},
{"data": {"values": [{}]}, "mark": {"type": "text", "align": "right", "dx": -25}, "encoding": {"x": {"datum": 7.6}, "y": {"datum": 32.5}, "text": {"value": "Error (%) ="}}},
{"data": {"values": [{}]}, "mark": {"type": "text", "align": "center", "fontSize": 7, "lineHeight": 6.5, "dy": -6.5, "text": ["Fᴱˣᵖₘₐₓ−Fⁿᵘᵐₘₐₓ", "─────────", "Fᴱˣᵖₘₐₓ"]}, "encoding": {"x": {"datum": 7.6}, "y": {"datum": 32.5}}},
{"data": {"values": [{}]}, "mark": {"type": "text", "align": "left", "dx": 25}, "encoding": {"x": {"datum": 7.6}, "y": {"datum": 32.5}, "text": {"value": "= −5.9"}}}
]},
{"width": 258, "height": 225, "title": "마. SC \u00a0–\u00a0 7D", "layer": [
{"data": {"name": "curves"}, "transform": [{"filter": "datum.p == 'e'"}], "mark": {"type": "line", "strokeWidth": 1.4},
"encoding": {"x": {"field": "x", "type": "quantitative", "scale": {"domain": [0, 10]}, "axis": {"title": "Slip (mm)", "values": [0,2,4,6,8,10]}},
"y": {"field": "y", "type": "quantitative", "scale": {"domain": [0, 40]}, "axis": {"title": "Load (kN)", "values": [0,10,20,30,40]}},
"color": {"field": "s", "type": "nominal", "scale": {"domain": ["Experiment","Ansys","Theory"], "range": ["#1d1f2e","#e8343c","#2a2ad0"]}, "legend": {"title": null, "orient": "bottom-right"}},
"strokeDash": {"field": "s", "type": "nominal", "scale": {"domain": ["Experiment","Ansys","Theory"], "range": [[1,0],[9,2,2,2],[5,2,1.5,2]]}, "legend": {"title": null, "orient": "bottom-right"}},
"order": {"value": null}}},
{"data": {"values": [{}]}, "mark": {"type": "text", "align": "right", "dx": -25}, "encoding": {"x": {"datum": 7.8}, "y": {"datum": 34}, "text": {"value": "Error (%) ="}}},
{"data": {"values": [{}]}, "mark": {"type": "text", "align": "center", "fontSize": 7, "lineHeight": 6.5, "dy": -6.5, "text": ["Fᴱˣᵖₘₐₓ−Fⁿᵘᵐₘₐₓ", "─────────", "Fᴱˣᵖₘₐₓ"]}, "encoding": {"x": {"datum": 7.8}, "y": {"datum": 34}}},
{"data": {"values": [{}]}, "mark": {"type": "text", "align": "left", "dx": 25}, "encoding": {"x": {"datum": 7.8}, "y": {"datum": 34}, "text": {"value": "= −5.4"}}}
]},
{"width": 258, "height": 225, "title": "바. B \u00a0–\u00a0 100 \u00a0–\u00a0 60", "layer": [
{"data": {"name": "curves"}, "transform": [{"filter": "datum.p == 'f'"}], "mark": {"type": "line", "strokeWidth": 1.4},
"encoding": {"x": {"field": "x", "type": "quantitative", "scale": {"domain": [0, 5]}, "axis": {"title": "Slip (mm)", "values": [0,1,2,3,4,5]}},
"y": {"field": "y", "type": "quantitative", "scale": {"domain": [0, 50]}, "axis": {"title": "Load (kN)", "values": [0,10,20,30,40,50]}},
"color": {"field": "s", "type": "nominal", "scale": {"domain": ["Experiment","Ansys","Theory"], "range": ["#1d1f2e","#e8343c","#2a2ad0"]}, "legend": {"title": null, "orient": "bottom-right"}},
"strokeDash": {"field": "s", "type": "nominal", "scale": {"domain": ["Experiment","Ansys","Theory"], "range": [[1,0],[9,2,2,2],[5,2,1.5,2]]}, "legend": {"title": null, "orient": "bottom-right"}},
"order": {"value": null}}},
{"data": {"values": [{}]}, "mark": {"type": "text", "align": "right", "dx": -25}, "encoding": {"x": {"datum": 3.92}, "y": {"datum": 40}, "text": {"value": "Error (%) ="}}},
{"data": {"values": [{}]}, "mark": {"type": "text", "align": "center", "fontSize": 7, "lineHeight": 6.5, "dy": -6.5, "text": ["Fᴱˣᵖₘₐₓ−Fⁿᵘᵐₘₐₓ", "─────────", "Fᴱˣᵖₘₐₓ"]}, "encoding": {"x": {"datum": 3.92}, "y": {"datum": 40}}},
{"data": {"values": [{}]}, "mark": {"type": "text", "align": "left", "dx": 25}, "encoding": {"x": {"datum": 3.92}, "y": {"datum": 40}, "text": {"value": "= 0.7"}}}
]}
], "spacing": 32, "resolve": {"scale": {"color": "independent", "strokeDash": "independent"}, "legend": {"color": "independent", "strokeDash": "independent"}}},
{"hconcat": [
{"width": 258, "height": 225, "title": "사. B \u00a0–\u00a0 100 \u00a0–\u00a0 45", "layer": [
{"data": {"name": "curves"}, "transform": [{"filter": "datum.p == 'g'"}], "mark": {"type": "line", "strokeWidth": 1.4},
"encoding": {"x": {"field": "x", "type": "quantitative", "scale": {"domain": [0, 5]}, "axis": {"title": "Slip (mm)", "values": [0,1,2,3,4,5]}},
"y": {"field": "y", "type": "quantitative", "scale": {"domain": [0, 50]}, "axis": {"title": "Load (kN)", "values": [0,10,20,30,40,50]}},
"color": {"field": "s", "type": "nominal", "scale": {"domain": ["Experiment","Ansys","Theory"], "range": ["#1d1f2e","#e8343c","#2a2ad0"]}, "legend": {"title": null, "orient": "bottom-right"}},
"strokeDash": {"field": "s", "type": "nominal", "scale": {"domain": ["Experiment","Ansys","Theory"], "range": [[1,0],[9,2,2,2],[5,2,1.5,2]]}, "legend": {"title": null, "orient": "bottom-right"}},
"order": {"value": null}}},
{"data": {"values": [{}]}, "mark": {"type": "text", "align": "right", "dx": -25}, "encoding": {"x": {"datum": 3.86}, "y": {"datum": 44.2}, "text": {"value": "Error (%) ="}}},
{"data": {"values": [{}]}, "mark": {"type": "text", "align": "center", "fontSize": 7, "lineHeight": 6.5, "dy": -6.5, "text": ["Fᴱˣᵖₘₐₓ−Fⁿᵘᵐₘₐₓ", "─────────", "Fᴱˣᵖₘₐₓ"]}, "encoding": {"x": {"datum": 3.86}, "y": {"datum": 44.2}}},
{"data": {"values": [{}]}, "mark": {"type": "text", "align": "left", "dx": 25}, "encoding": {"x": {"datum": 3.86}, "y": {"datum": 44.2}, "text": {"value": "= 5.4"}}}
]},
{"width": 258, "height": 225, "title": "아. B \u00a0–\u00a0 75 \u00a0–\u00a0 45", "layer": [
{"data": {"name": "curves"}, "transform": [{"filter": "datum.p == 'h'"}], "mark": {"type": "line", "strokeWidth": 1.4},
"encoding": {"x": {"field": "x", "type": "quantitative", "scale": {"domain": [0, 5]}, "axis": {"title": "Slip (mm)", "values": [0,1,2,3,4,5]}},
"y": {"field": "y", "type": "quantitative", "scale": {"domain": [0, 50]}, "axis": {"title": "Load (kN)", "values": [0,10,20,30,40,50]}},
"color": {"field": "s", "type": "nominal", "scale": {"domain": ["Experiment","Ansys","Theory"], "range": ["#1d1f2e","#e8343c","#2a2ad0"]}, "legend": {"title": null, "orient": "bottom-right"}},
"strokeDash": {"field": "s", "type": "nominal", "scale": {"domain": ["Experiment","Ansys","Theory"], "range": [[1,0],[9,2,2,2],[5,2,1.5,2]]}, "legend": {"title": null, "orient": "bottom-right"}},
"order": {"value": null}}},
{"data": {"values": [{}]}, "mark": {"type": "text", "align": "right", "dx": -25}, "encoding": {"x": {"datum": 3.88}, "y": {"datum": 46.5}, "text": {"value": "Error (%) ="}}},
{"data": {"values": [{}]}, "mark": {"type": "text", "align": "center", "fontSize": 7, "lineHeight": 6.5, "dy": -6.5, "text": ["Fᴱˣᵖₘₐₓ−Fⁿᵘᵐₘₐₓ", "─────────", "Fᴱˣᵖₘₐₓ"]}, "encoding": {"x": {"datum": 3.88}, "y": {"datum": 46.5}}},
{"data": {"values": [{}]}, "mark": {"type": "text", "align": "left", "dx": 25}, "encoding": {"x": {"datum": 3.88}, "y": {"datum": 46.5}, "text": {"value": "= 2.6"}}}
]},
{"width": 258, "height": 225, "title": "자. SFS \u00a0–\u00a0 100 \u00a0–\u00a0 75", "layer": [
{"data": {"name": "curves"}, "transform": [{"filter": "datum.p == 'i'"}], "mark": {"type": "line", "strokeWidth": 1.4},
"encoding": {"x": {"field": "x", "type": "quantitative", "scale": {"domain": [0, 8]}, "axis": {"title": "Slip (mm)", "values": [0,2,4,6,8]}},
"y": {"field": "y", "type": "quantitative", "scale": {"domain": [0, 40]}, "axis": {"title": "Load (kN)", "values": [0,10,20,30,40]}},
"color": {"field": "s", "type": "nominal", "scale": {"domain": ["Experiment","Ansys","Theory"], "range": ["#1d1f2e","#e8343c","#2a2ad0"]}, "legend": {"title": null, "orient": "bottom-right"}},
"strokeDash": {"field": "s", "type": "nominal", "scale": {"domain": ["Experiment","Ansys","Theory"], "range": [[1,0],[9,2,2,2],[5,2,1.5,2]]}, "legend": {"title": null, "orient": "bottom-right"}},
"order": {"value": null}}},
{"data": {"values": [{}]}, "mark": {"type": "text", "align": "right", "dx": -25}, "encoding": {"x": {"datum": 6.3}, "y": {"datum": 35}, "text": {"value": "Error (%) ="}}},
{"data": {"values": [{}]}, "mark": {"type": "text", "align": "center", "fontSize": 7, "lineHeight": 6.5, "dy": -6.5, "text": ["Fᴱˣᵖₘₐₓ−Fⁿᵘᵐₘₐₓ", "─────────", "Fᴱˣᵖₘₐₓ"]}, "encoding": {"x": {"datum": 6.3}, "y": {"datum": 35}}},
{"data": {"values": [{}]}, "mark": {"type": "text", "align": "left", "dx": 25}, "encoding": {"x": {"datum": 6.3}, "y": {"datum": 35}, "text": {"value": "= 2.2"}}}
]}
], "spacing": 32, "resolve": {"scale": {"color": "independent", "strokeDash": "independent"}, "legend": {"color": "independent", "strokeDash": "independent"}}},
{"hconcat": [
{"width": 258, "height": 225, "title": "차. SFS \u00a0–\u00a0 100 \u00a0–\u00a0 60", "layer": [
{"data": {"name": "curves"}, "transform": [{"filter": "datum.p == 'j'"}], "mark": {"type": "line", "strokeWidth": 1.4},
"encoding": {"x": {"field": "x", "type": "quantitative", "scale": {"domain": [0, 5]}, "axis": {"title": "Slip (mm)", "values": [0,2,4]}},
"y": {"field": "y", "type": "quantitative", "scale": {"domain": [0, 40]}, "axis": {"title": "Load (kN)", "values": [0,10,20,30,40]}},
"color": {"field": "s", "type": "nominal", "scale": {"domain": ["Experiment","Ansys","Theory"], "range": ["#1d1f2e","#e8343c","#2a2ad0"]}, "legend": {"title": null, "orient": "bottom-right"}},
"strokeDash": {"field": "s", "type": "nominal", "scale": {"domain": ["Experiment","Ansys","Theory"], "range": [[1,0],[9,2,2,2],[5,2,1.5,2]]}, "legend": {"title": null, "orient": "bottom-right"}},
"order": {"value": null}}},
{"data": {"values": [{}]}, "mark": {"type": "text", "align": "right", "dx": -25}, "encoding": {"x": {"datum": 3.87}, "y": {"datum": 35.6}, "text": {"value": "Error (%) ="}}},
{"data": {"values": [{}]}, "mark": {"type": "text", "align": "center", "fontSize": 7, "lineHeight": 6.5, "dy": -6.5, "text": ["Fᴱˣᵖₘₐₓ−Fⁿᵘᵐₘₐₓ", "─────────", "Fᴱˣᵖₘₐₓ"]}, "encoding": {"x": {"datum": 3.87}, "y": {"datum": 35.6}}},
{"data": {"values": [{}]}, "mark": {"type": "text", "align": "left", "dx": 25}, "encoding": {"x": {"datum": 3.87}, "y": {"datum": 35.6}, "text": {"value": "= −2.9"}}}
]},
{"width": 258, "height": 225, "title": "카. SFS \u00a0–\u00a0 100 \u00a0–\u00a0 45", "layer": [
{"data": {"name": "curves"}, "transform": [{"filter": "datum.p == 'k'"}], "mark": {"type": "line", "strokeWidth": 1.4},
"encoding": {"x": {"field": "x", "type": "quantitative", "scale": {"domain": [0, 5]}, "axis": {"title": "Slip (mm)", "values": [0,2,4]}},
"y": {"field": "y", "type": "quantitative", "scale": {"domain": [0, 40]}, "axis": {"title": "Load (kN)", "values": [0,10,20,30,40]}},
"color": {"field": "s", "type": "nominal", "scale": {"domain": ["Experiment","Ansys","Theory"], "range": ["#1d1f2e","#e8343c","#2a2ad0"]}, "legend": {"title": null, "orient": "bottom-right"}},
"strokeDash": {"field": "s", "type": "nominal", "scale": {"domain": ["Experiment","Ansys","Theory"], "range": [[1,0],[9,2,2,2],[5,2,1.5,2]]}, "legend": {"title": null, "orient": "bottom-right"}},
"order": {"value": null}}},
{"data": {"values": [{}]}, "mark": {"type": "text", "align": "right", "dx": -25}, "encoding": {"x": {"datum": 3.96}, "y": {"datum": 37.2}, "text": {"value": "Error (%) ="}}},
{"data": {"values": [{}]}, "mark": {"type": "text", "align": "center", "fontSize": 7, "lineHeight": 6.5, "dy": -6.5, "text": ["Fᴱˣᵖₘₐₓ−Fⁿᵘᵐₘₐₓ", "─────────", "Fᴱˣᵖₘₐₓ"]}, "encoding": {"x": {"datum": 3.96}, "y": {"datum": 37.2}}},
{"data": {"values": [{}]}, "mark": {"type": "text", "align": "left", "dx": 25}, "encoding": {"x": {"datum": 3.96}, "y": {"datum": 37.2}, "text": {"value": "= 4.8"}}}
]},
{"width": 258, "height": 225, "title": "타. SFS \u00a0–\u00a0 75 \u00a0–\u00a0 45", "layer": [
{"data": {"name": "curves"}, "transform": [{"filter": "datum.p == 'l'"}], "mark": {"type": "line", "strokeWidth": 1.4},
"encoding": {"x": {"field": "x", "type": "quantitative", "scale": {"domain": [0, 5]}, "axis": {"title": "Slip (mm)", "values": [0,2,4]}},
"y": {"field": "y", "type": "quantitative", "scale": {"domain": [0, 40]}, "axis": {"title": "Load (kN)", "values": [0,10,20,30,40]}},
"color": {"field": "s", "type": "nominal", "scale": {"domain": ["Experiment","Ansys","Theory"], "range": ["#1d1f2e","#e8343c","#2a2ad0"]}, "legend": {"title": null, "orient": "bottom-right"}},
"strokeDash": {"field": "s", "type": "nominal", "scale": {"domain": ["Experiment","Ansys","Theory"], "range": [[1,0],[9,2,2,2],[5,2,1.5,2]]}, "legend": {"title": null, "orient": "bottom-right"}},
"order": {"value": null}}},
{"data": {"values": [{}]}, "mark": {"type": "text", "align": "right", "dx": -25}, "encoding": {"x": {"datum": 3.95}, "y": {"datum": 36.9}, "text": {"value": "Error (%) ="}}},
{"data": {"values": [{}]}, "mark": {"type": "text", "align": "center", "fontSize": 7, "lineHeight": 6.5, "dy": -6.5, "text": ["Fᴱˣᵖₘₐₓ−Fⁿᵘᵐₘₐₓ", "─────────", "Fᴱˣᵖₘₐₓ"]}, "encoding": {"x": {"datum": 3.95}, "y": {"datum": 36.9}}},
{"data": {"values": [{}]}, "mark": {"type": "text", "align": "left", "dx": 25}, "encoding": {"x": {"datum": 3.95}, "y": {"datum": 36.9}, "text": {"value": "= −5.5"}}}
]}
], "spacing": 32, "resolve": {"scale": {"color": "independent", "strokeDash": "independent"}, "legend": {"color": "independent", "strokeDash": "independent"}}}
],
"config": {
"view": {"stroke": "#777", "strokeWidth": 1},
"axis": {"grid": false, "labelFont": "Liberation Sans", "labelFontSize": 7, "labelColor": "#222", "titleFont": "Liberation Sans", "titleFontSize": 8.5, "titleFontWeight": "bold", "titleColor": "#111", "tickSize": -3, "tickColor": "#777", "domainColor": "#777", "labelPadding": 5},
"axisX": {"titlePadding": 8},
"axisY": {"titlePadding": 8},
"legend": {"orient": "bottom-right", "offset": 6, "strokeColor": "#888", "fillColor": "white", "padding": 2.5, "rowPadding": 0, "labelFont": "Liberation Sans", "labelFontSize": 8.5, "labelColor": "#222", "symbolType": "stroke", "symbolSize": 180, "symbolStrokeWidth": 1.5, "labelOffset": 3},
"text": {"font": "Liberation Serif", "fontStyle": "italic", "fontSize": 8.5, "color": "#333", "baseline": "middle"},
"title": {"font": "Liberation Serif, Noto Sans CJK KR", "fontSize": 25, "fontWeight": "normal", "color": "#000", "orient": "bottom", "offset": 13, "anchor": "middle", "frame": "bounds"}
}
}
